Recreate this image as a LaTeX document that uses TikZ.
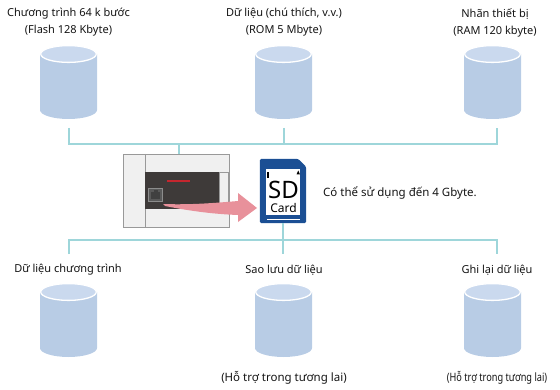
\documentclass[tikz,border=0pt]{standalone}
\usepackage{fontspec}
\setmainfont{Noto Sans}
\begin{document}
\begin{tikzpicture}[x=1pt,y=1pt,
  lbl/.style={font=\fontsize{11}{17}\selectfont, text=black!92, inner sep=0pt, align=center},
  note/.style={font=\fontsize{11.5}{14}\selectfont, text=black!92, inner sep=0pt},
  bus/.style={draw=busc, line width=2pt},
  cyl/.style={minimum width=57pt, minimum height=74pt, inner sep=0pt, outer sep=0pt,
    path picture={
      \fill[cylbody] ([shift={(-28.5pt,28pt)}]path picture bounding box.center)
        -- ([shift={(-28.5pt,-28pt)}]path picture bounding box.center)
        arc[start angle=180, end angle=360, x radius=28.5pt, y radius=9pt]
        -- ([shift={(28.5pt,28pt)}]path picture bounding box.center) -- cycle;
      \filldraw[fill=cyltop, draw=white, line width=1.3pt]
        ([yshift=28pt]path picture bounding box.center) ellipse[x radius=27.8pt, y radius=8.4pt];
    }},
  plcgray/.style={draw=black!40, line width=0.9pt}
]
\definecolor{busc}{HTML}{9ED6DA}
\definecolor{cylbody}{HTML}{B8CCE5}
\definecolor{cyltop}{HTML}{CAD9EE}
\definecolor{sdblue}{HTML}{1B4F94}
\definecolor{pinkarrow}{HTML}{E8919B}
\definecolor{plcdark}{HTML}{3E3A39}
\definecolor{plclight}{HTML}{F0F0F0}
\definecolor{ledred}{HTML}{C4262E}
\useasboundingbox (0,0) rectangle (560,389);

% upper storage areas
\node[lbl] (tT1) at (68.5,366.5) {Chương trình 64 k bước\\(Flash 128 Kbyte)};
\node[lbl] (tT2) at (284,366.5) {Dữ liệu (chú thích, v.v.)\\(ROM 5 Mbyte)};
\node[lbl] (tT3) at (495,366.5) {Nhãn thiết bị\\(RAM 120 kbyte)};
\node[cyl] (cT1) at (68.5,307) {};
\node[cyl] (cT2) at (283.5,307) {};
\node[cyl] (cT3) at (492.5,307) {};

% lower storage areas
\node[lbl] (bL1) at (68,119) {Dữ liệu chương trình};
\node[lbl] (bL2) at (284,119) {Sao lưu dữ liệu};
\node[lbl] (bL3) at (497,119) {Ghi lại dữ liệu};
\node[cyl] (cB1) at (68.5,69) {};
\node[cyl] (cB2) at (283.5,69) {};
\node[cyl] (cB3) at (492.5,69) {};
\node[note] (nB2) at (284,11) {(Hỗ trợ trong tương lai)};
\node[note] (nB3) at (497,11) {\scalebox{0.8}[1]{(Hỗ trợ trong tương lai)}};

% PLC body
\node[fill=plclight, plcgray, minimum width=106pt, minimum height=73pt, inner sep=0pt] (plc) at (176,198.5) {};
\draw[plcgray] (145,235) -- (145,162);
\fill[plcdark] (145,180) rectangle (219,217);
\filldraw[fill=plclight, plcgray, line width=0.7pt] (219,183) rectangle (228.5,217);
\draw[ledred, line width=1.6pt] (167,208) -- (190,208);
\node[fill=black!65, draw=black!45, line width=1pt, minimum width=14pt, minimum height=13pt, inner sep=0pt] (port) at (155.5,194) {};
\fill[black!75] (151,190) rectangle (160,197);
\fill[black!75] (153.5,197) rectangle (157.5,199);

% SD card
\node[minimum width=46pt, minimum height=64pt, inner sep=0pt] (sd) at (283,198) {};
\fill[sdblue, rounded corners=1.5pt] (sd.south west) -- (sd.north west) -- ([xshift=-8pt]sd.north east) -- ([yshift=-8pt]sd.north east) -- (sd.south east) -- cycle;
\fill[white] (266,174) rectangle (300,220);
\draw[white, line width=1pt] (267,170) -- (300,170);
\fill[black] (296.5,214.5) -- (300,214.5) -- (298.25,218.5) -- cycle;
\fill[black] (267,211) rectangle (268.6,216.5);
\node[inner sep=0pt, anchor=base, font=\fontsize{24}{24}\selectfont] (sdT) at (283.5,190) {SD};
\node[inner sep=0pt, anchor=base, font=\fontsize{12}{12}\selectfont] (cardT) at (283.5,177) {Card};
\node[note, anchor=west] (cap) at (323,196) {Có thể sử dụng đến 4 Gbyte.};

% transfer arrow from the PLC port to the card
\fill[pinkarrow] (163,185) .. controls (190,184) and (215,186) .. (238,188)
  -- (238,196) -- (257,181) -- (238,167) -- (238,174)
  .. controls (210,175) and (185,179) .. (165,183) -- cycle;

% upper bus
\coordinate (sT1) at (68.5,261);
\coordinate (sT2) at (284,261);
\coordinate (sT3) at (497,261);
\coordinate (jT) at (284,245);
\draw[bus] (sT1) |- (jT) -| (sT3);
\draw[bus] (sT2) -- (jT);
\draw[bus] ([xshift=2.5pt]plc.north) -- ([xshift=2.5pt]plc.north |- jT);

% lower bus
\coordinate (sB1) at (68.5,135);
\coordinate (sB3) at (497,135);
\coordinate (jB) at (283,149);
\draw[bus] (sB1) |- (jB) -| (sB3);
\draw[bus] (sd.south) -- (sd.south |- sB1);
\end{tikzpicture}
\end{document}
